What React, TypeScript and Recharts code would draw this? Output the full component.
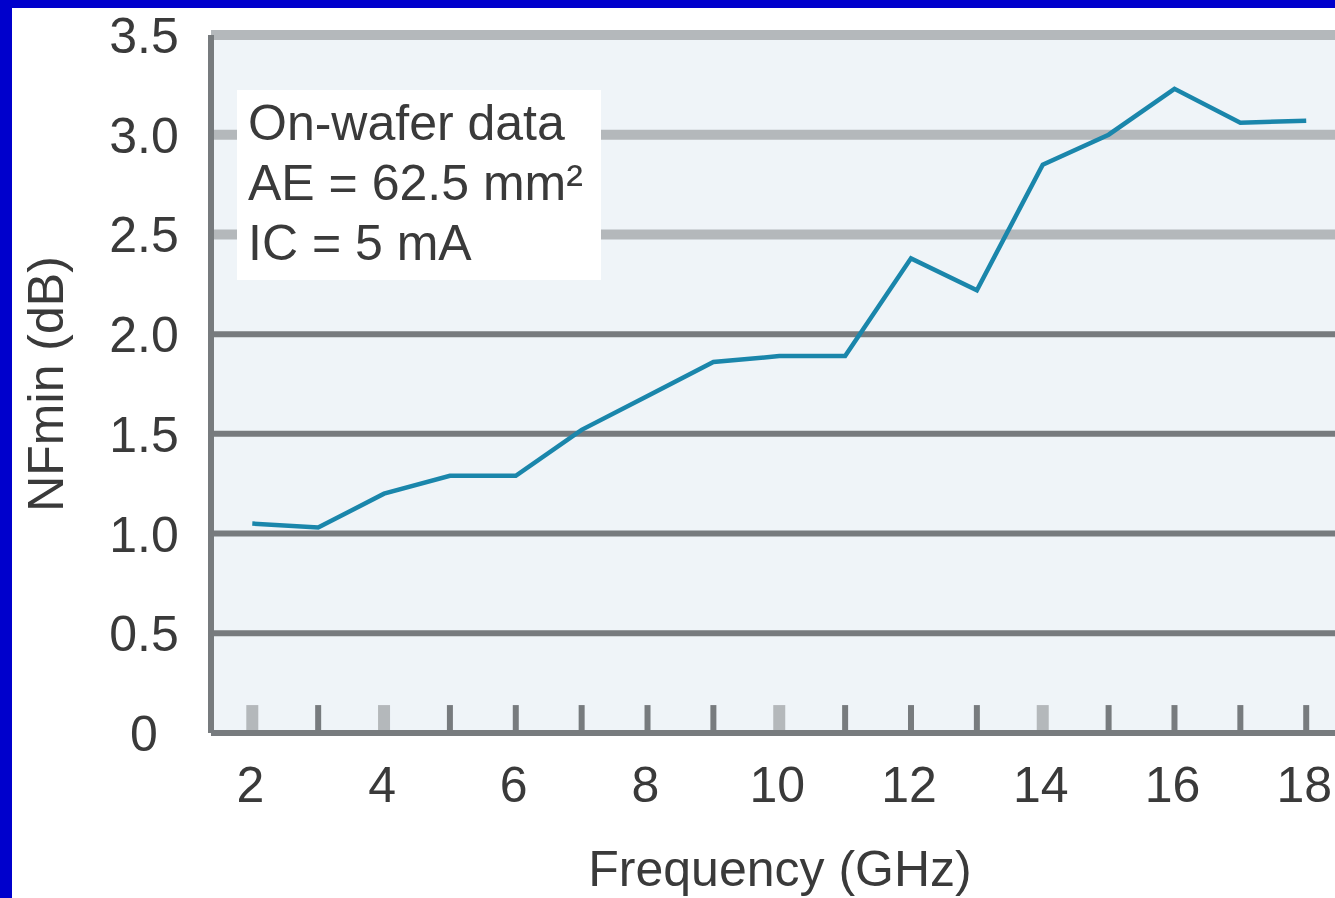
import React from 'react';
import { LineChart, Line, XAxis, YAxis, ReferenceLine, ReferenceArea } from 'recharts';

const freqs = [2, 3, 4, 5, 6, 7, 8, 9, 10, 11, 12, 13, 14, 15, 16, 17, 18];
const nfMin = [1.05, 1.03, 1.2, 1.29, 1.29, 1.52, 1.69, 1.86, 1.89, 1.89, 2.38, 2.22, 2.85, 3.0, 3.23, 3.06, 3.07];
const xTicks = [2, 3, 4, 5, 6, 7, 8, 9, 10, 11, 12, 13, 14, 15, 16, 17, 18];
const xLabelTicks = [2, 4, 6, 8, 10, 12, 14, 16, 18];
const xHighlightTicks = [2, 4, 10, 14];
const yTicks = [0, 0.5, 1, 1.5, 2, 2.5, 3, 3.5];
const gridLight = [2.5, 3, 3.5];
const gridDark = [0.5, 1, 1.5, 2];
const annotationLines = ['On-wafer data', 'AE = 62.5 mm\u00B2', 'IC = 5 mA'];
const X_MIN = 1.373;
const X_MAX = 18.437;
const TICK_LEN = 0.14;

const data = freqs.map((f, i) => ({ freq: f, nf: nfMin[i] }));

const FONT = '"Liberation Sans", Arial, sans-serif';
const TEXT = '#3a3a3a';
const DARK = '#777b7e';
const LIGHT = '#b4b8bb';

const XTick = (props: any) => {
  const { x, y, payload } = props;
  if (!xLabelTicks.includes(payload.value)) return null;
  return (
    <text x={x - 2} y={y + 61} textAnchor="middle" fontSize={50} fill={TEXT} fontFamily={FONT}>
      {payload.value}
    </text>
  );
};

const YTick = (props: any) => {
  const { x, y, payload } = props;
  const v = payload.value;
  const label = v === 0 ? '0' : v.toFixed(1);
  return (
    <text x={x - 59} y={y} dy="0.36em" textAnchor="middle" fontSize={50} fill={TEXT} fontFamily={FONT}>
      {label}
    </text>
  );
};

const XTitle = (props: any) => {
  const vb = props.viewBox || {};
  return (
    <text x={vb.x + vb.width / 2 + 7} y={vb.y + 153} textAnchor="middle" fontSize={50} fill={TEXT} fontFamily={FONT}>
      Frequency (GHz)
    </text>
  );
};

const YTitle = (props: any) => {
  const vb = props.viewBox || {};
  const cx = 63;
  const cy = vb.y + vb.height / 2;
  return (
    <text x={cx} y={cy} transform={`rotate(-90, ${cx}, ${cy})`} textAnchor="middle" fontSize={50} fill={TEXT} fontFamily={FONT}>
      NFmin (dB)
    </text>
  );
};

export default function App() {
  return (
    <div style={{ position: 'absolute', left: 0, top: 0, width: 1335, height: 898, background: '#0000cc', overflow: 'hidden' }}>
      <div style={{ position: 'absolute', left: 12, top: 8, width: 1323, height: 890, background: '#ffffff' }} />
      <div style={{ position: 'absolute', left: 0, top: 0 }}>
        <LineChart width={1335} height={898} data={data} margin={{ top: 35, right: 0, bottom: 0, left: 0 }}>
          <ReferenceArea x1={X_MIN} x2={X_MAX} y1={0} y2={3.5} fill="#eff4f8" fillOpacity={1} stroke="none" ifOverflow="extendDomain" />
          {gridLight.map((v) => (
            <ReferenceLine key={'gl' + v} y={v} stroke={LIGHT} strokeWidth={10} />
          ))}
          {gridDark.map((v) => (
            <ReferenceLine key={'gd' + v} y={v} stroke={DARK} strokeWidth={6} />
          ))}
          {xTicks.map((t) => (
            <ReferenceLine
              key={'t' + t}
              segment={[{ x: t, y: 0 }, { x: t, y: TICK_LEN }]}
              stroke={xHighlightTicks.includes(t) ? LIGHT : DARK}
              strokeWidth={xHighlightTicks.includes(t) ? 12 : 6}
            />
          ))}
          <XAxis
            type="number"
            dataKey="freq"
            domain={[X_MIN, X_MAX]}
            allowDataOverflow
            ticks={xTicks}
            interval={0}
            height={165}
            tickLine={false}
            axisLine={{ stroke: DARK, strokeWidth: 6 }}
            tick={<XTick />}
            label={<XTitle />}
          />
          <YAxis
            type="number"
            domain={[0, 3.5]}
            ticks={yTicks}
            interval={0}
            width={211}
            tickLine={false}
            axisLine={{ stroke: DARK, strokeWidth: 6 }}
            tick={<YTick />}
            label={<YTitle />}
          />
          <Line type="linear" dataKey="nf" stroke="#1a86ab" strokeWidth={4.5} dot={false} isAnimationActive={false} />
        </LineChart>
      </div>
      <div
        style={{
          position: 'absolute',
          left: 237,
          top: 90,
          width: 364,
          height: 190,
          background: '#ffffff',
          boxSizing: 'border-box',
          paddingLeft: 11,
          paddingTop: 3,
          fontFamily: FONT,
          fontSize: 50,
          lineHeight: '60px',
          color: TEXT,
          whiteSpace: 'nowrap',
        }}
      >
        {annotationLines.map((l) => (
          <div key={l}>{l}</div>
        ))}
      </div>
    </div>
  );
}
